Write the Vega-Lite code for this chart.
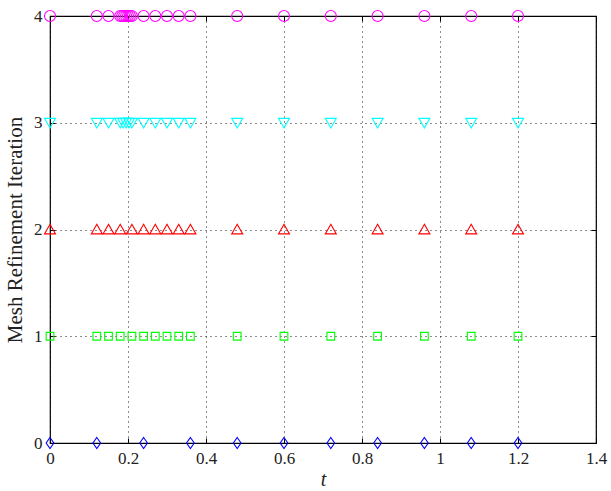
{
  "$schema": "https://vega.github.io/schema/vega-lite/v6.json",
  "width": 546,
  "height": 427,
  "autosize": "none",
  "padding": {"left": 50, "top": 16, "right": 15, "bottom": 48},
  "config": {
    "view": {"stroke": "black", "strokeWidth": 1.2},
    "font": "Liberation Serif",
    "axis": {
      "domain": false,
      "tickColor": "black",
      "tickSize": -5,
      "tickWidth": 1,
      "labelFont": "Liberation Serif",
      "labelFontSize": 17,
      "labelColor": "#222",
      "titleFont": "Liberation Serif",
      "titleFontWeight": "normal",
      "titleFontSize": 21,
      "titleColor": "#222",
      "gridColor": "black",
      "gridDash": [1, 4],
      "gridOpacity": 0.9,
      "gridWidth": 1
    }
  },
  "data": {"values": [
    {"t": 0, "iter": 0}, {"t": 0.12, "iter": 0}, {"t": 0.24, "iter": 0}, {"t": 0.36, "iter": 0}, {"t": 0.48, "iter": 0}, {"t": 0.6, "iter": 0}, {"t": 0.72, "iter": 0}, {"t": 0.84, "iter": 0}, {"t": 0.96, "iter": 0}, {"t": 1.08, "iter": 0}, {"t": 1.2, "iter": 0},
    {"t": 0, "iter": 1}, {"t": 0.12, "iter": 1}, {"t": 0.15, "iter": 1}, {"t": 0.18, "iter": 1}, {"t": 0.21, "iter": 1}, {"t": 0.24, "iter": 1}, {"t": 0.27, "iter": 1}, {"t": 0.3, "iter": 1}, {"t": 0.33, "iter": 1}, {"t": 0.36, "iter": 1}, {"t": 0.48, "iter": 1}, {"t": 0.6, "iter": 1}, {"t": 0.72, "iter": 1}, {"t": 0.84, "iter": 1}, {"t": 0.96, "iter": 1}, {"t": 1.08, "iter": 1}, {"t": 1.2, "iter": 1},
    {"t": 0, "iter": 2}, {"t": 0.12, "iter": 2}, {"t": 0.15, "iter": 2}, {"t": 0.18, "iter": 2}, {"t": 0.21, "iter": 2}, {"t": 0.24, "iter": 2}, {"t": 0.27, "iter": 2}, {"t": 0.3, "iter": 2}, {"t": 0.33, "iter": 2}, {"t": 0.36, "iter": 2}, {"t": 0.48, "iter": 2}, {"t": 0.6, "iter": 2}, {"t": 0.72, "iter": 2}, {"t": 0.84, "iter": 2}, {"t": 0.96, "iter": 2}, {"t": 1.08, "iter": 2}, {"t": 1.2, "iter": 2},
    {"t": 0, "iter": 3}, {"t": 0.12, "iter": 3}, {"t": 0.15, "iter": 3}, {"t": 0.18, "iter": 3}, {"t": 0.1875, "iter": 3}, {"t": 0.195, "iter": 3}, {"t": 0.2025, "iter": 3}, {"t": 0.21, "iter": 3}, {"t": 0.24, "iter": 3}, {"t": 0.27, "iter": 3}, {"t": 0.3, "iter": 3}, {"t": 0.33, "iter": 3}, {"t": 0.36, "iter": 3}, {"t": 0.48, "iter": 3}, {"t": 0.6, "iter": 3}, {"t": 0.72, "iter": 3}, {"t": 0.84, "iter": 3}, {"t": 0.96, "iter": 3}, {"t": 1.08, "iter": 3}, {"t": 1.2, "iter": 3},
    {"t": 0, "iter": 4}, {"t": 0.12, "iter": 4}, {"t": 0.15, "iter": 4}, {"t": 0.18, "iter": 4}, {"t": 0.185, "iter": 4}, {"t": 0.19, "iter": 4}, {"t": 0.195, "iter": 4}, {"t": 0.2, "iter": 4}, {"t": 0.205, "iter": 4}, {"t": 0.21, "iter": 4}, {"t": 0.24, "iter": 4}, {"t": 0.27, "iter": 4}, {"t": 0.3, "iter": 4}, {"t": 0.33, "iter": 4}, {"t": 0.36, "iter": 4}, {"t": 0.48, "iter": 4}, {"t": 0.6, "iter": 4}, {"t": 0.72, "iter": 4}, {"t": 0.84, "iter": 4}, {"t": 0.96, "iter": 4}, {"t": 1.08, "iter": 4}, {"t": 1.2, "iter": 4}
  ]},
  "layer": [
    {
      "mark": {"type": "point", "filled": false, "strokeWidth": 1.1, "size": 121, "clip": false, "opacity": 1},
      "encoding": {
        "x": {"field": "t", "type": "quantitative", "scale": {"domain": [0, 1.4], "nice": false, "zero": false},
              "axis": {"orient": "bottom", "values": [0, 0.2, 0.4, 0.6, 0.8, 1, 1.2, 1.4], "format": "~g", "title": "t", "titleFontStyle": "italic", "titleFontSize": 20, "labelPadding": 12, "titlePadding": 3, "labelFlush": false}},
        "y": {"field": "iter", "type": "quantitative", "scale": {"domain": [0, 4], "nice": false, "zero": false},
              "axis": {"orient": "left", "values": [0, 1, 2, 3, 4], "format": "d", "title": "Mesh Refinement Iteration", "labelPadding": 13, "titlePadding": 8, "labelFlush": false}},
        "shape": {"field": "iter", "type": "nominal", "legend": null,
                  "scale": {"domain": [0, 1, 2, 3, 4], "range": ["M0,-1L0.7,0L0,1L-0.7,0Z", "M-0.7,-0.7H0.7V0.7H-0.7Z", "M0,-0.95L1,0.8L-1,0.8Z", "M0,0.95L1,-0.8L-1,-0.8Z", "circle"]}},
        "color": {"field": "iter", "type": "nominal", "legend": null,
                  "scale": {"domain": [0, 1, 2, 3, 4], "range": ["#0000ff", "#00ff00", "#ff0000", "#00ffff", "#ff00ff"]}}
      }
    },
    {
      "mark": {"type": "point", "opacity": 0},
      "encoding": {
        "x": {"field": "t", "type": "quantitative", "axis": {"orient": "top", "values": [0, 0.2, 0.4, 0.6, 0.8, 1, 1.2, 1.4], "labels": false, "grid": false, "title": null}},
        "y": {"field": "iter", "type": "quantitative", "axis": {"orient": "right", "values": [0, 1, 2, 3, 4], "labels": false, "grid": false, "title": null}}
      }
    }
  ],
  "resolve": {"axis": {"x": "independent", "y": "independent"}}
}
